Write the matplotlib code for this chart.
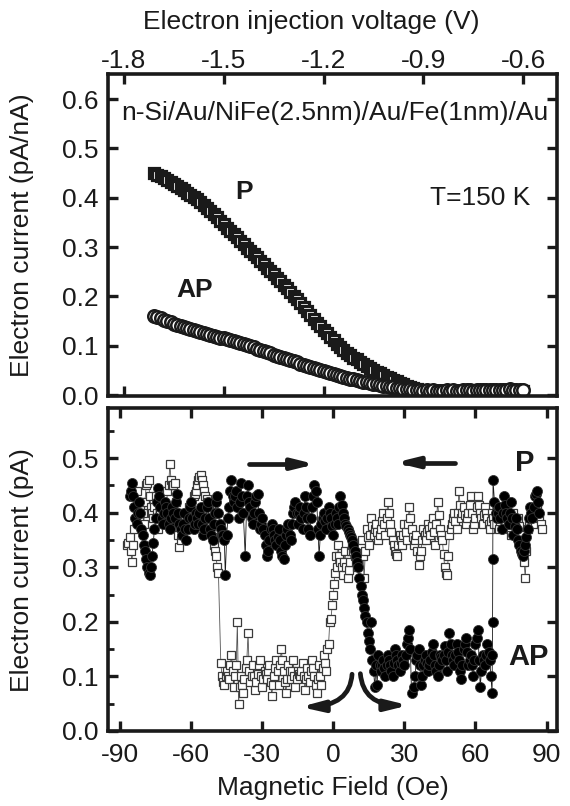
"""Spin-valve transistor: collector current vs injection voltage and field."""

import matplotlib

matplotlib.use("Agg")

import matplotlib.pyplot as plt
from matplotlib.patches import FancyArrowPatch
from matplotlib.path import Path
from matplotlib.ticker import MultipleLocator

plt.rcParams["font.family"] = ["Liberation Sans", "DejaVu Sans"]
plt.rcParams["axes.unicode_minus"] = False

# --- top panel: current vs injection voltage ---------------------------------
VOLTAGE = [
    -1.71, -1.70, -1.69, -1.68, -1.67, -1.66, -1.65, -1.64, -1.63, -1.62,
    -1.61, -1.60, -1.59, -1.58, -1.57, -1.56, -1.55, -1.54, -1.53, -1.52,
    -1.51, -1.50, -1.49, -1.48, -1.47, -1.46, -1.45, -1.44, -1.43, -1.42,
    -1.41, -1.40, -1.39, -1.38, -1.37, -1.36, -1.35, -1.34, -1.33, -1.32,
    -1.31, -1.30, -1.29, -1.28, -1.27, -1.26, -1.25, -1.24, -1.23, -1.22,
    -1.21, -1.20, -1.19, -1.18, -1.17, -1.16, -1.15, -1.14, -1.13, -1.12,
    -1.11, -1.10, -1.09, -1.08, -1.07, -1.06, -1.05, -1.04, -1.03, -1.02,
    -1.01, -1.00, -0.99, -0.98, -0.97, -0.96, -0.95, -0.94, -0.93, -0.92,
    -0.91, -0.90, -0.89, -0.88, -0.87, -0.86, -0.85, -0.84, -0.83, -0.82,
    -0.81, -0.80, -0.79, -0.78, -0.77, -0.76, -0.75, -0.74, -0.73, -0.72,
    -0.71, -0.70, -0.69, -0.68, -0.67, -0.66, -0.65, -0.64, -0.63, -0.62,
    -0.61, -0.60,
]
CURRENT_P = [
    0.450, 0.447, 0.444, 0.440, 0.436, 0.432, 0.428, 0.423, 0.419, 0.415,
    0.410, 0.406, 0.401, 0.397, 0.392, 0.386, 0.380, 0.373, 0.367, 0.360,
    0.353, 0.346, 0.339, 0.333, 0.326, 0.320, 0.313, 0.306, 0.299, 0.293,
    0.286, 0.279, 0.272, 0.265, 0.258, 0.251, 0.245, 0.238, 0.231, 0.224,
    0.216, 0.209, 0.201, 0.194, 0.186, 0.178, 0.170, 0.163, 0.155, 0.147,
    0.140, 0.132, 0.125, 0.118, 0.111, 0.104, 0.097, 0.091, 0.086, 0.081,
    0.076, 0.072, 0.067, 0.062, 0.058, 0.054, 0.051, 0.047, 0.044, 0.040,
    0.037, 0.034, 0.031, 0.028, 0.025, 0.022, 0.019, 0.016, 0.014, 0.012,
    0.010, 0.009, 0.008, 0.008, 0.007, 0.007, 0.006, 0.007, 0.006, 0.006,
    0.007, 0.006, 0.006, 0.007, 0.006, 0.005, 0.006, 0.006, 0.007, 0.006,
    0.006, 0.007, 0.006, 0.006, 0.007, 0.007, 0.006, 0.007, 0.008, 0.007,
    0.008, 0.008,
]
CURRENT_AP = [
    0.160, 0.159, 0.156, 0.153, 0.150, 0.148, 0.145, 0.142, 0.140, 0.138,
    0.135, 0.133, 0.131, 0.129, 0.127, 0.125, 0.123, 0.121, 0.120, 0.118,
    0.116, 0.115, 0.113, 0.112, 0.110, 0.108, 0.106, 0.103, 0.101, 0.099,
    0.097, 0.094, 0.092, 0.089, 0.087, 0.085, 0.082, 0.080, 0.077, 0.075,
    0.073, 0.071, 0.068, 0.066, 0.063, 0.061, 0.059, 0.057, 0.055, 0.053,
    0.051, 0.049, 0.047, 0.045, 0.043, 0.041, 0.039, 0.037, 0.035, 0.033,
    0.032, 0.030, 0.029, 0.027, 0.026, 0.024, 0.023, 0.022, 0.021, 0.019,
    0.018, 0.017, 0.016, 0.015, 0.014, 0.013, 0.012, 0.012, 0.011, 0.010,
    0.010, 0.009, 0.010, 0.009, 0.010, 0.009, 0.008, 0.009, 0.010, 0.009,
    0.010, 0.009, 0.009, 0.010, 0.011, 0.010, 0.009, 0.010, 0.010, 0.011,
    0.010, 0.011, 0.010, 0.010, 0.011, 0.010, 0.011, 0.012, 0.011, 0.010,
    0.011, 0.010,
]
VOLTAGE_TICKS = [-1.8, -1.5, -1.2, -0.9, -0.6]

# --- bottom panel: current vs magnetic field ---------------------------------
# filled circles (field swept up), whole-Oe readings
FIELD_UP = [
    -86, -85, -84, -83, -82, -81, -80, -79, -78, -77,
    -76, -75, -74, -73, -72, -71, -70, -69, -68, -67,
    -66, -65, -64, -63, -62, -61, -60, -59, -58, -57,
    -56, -55, -54, -53, -52, -51, -50, -49, -48, -47,
    -46, -45.6, -45, -44, -43, -42, -41, -40, -39, -38,
    -37.2, -36, -35, -34, -33, -32, -31, -30, -29, -28,
    -27, -26, -25, -24, -23, -22, -21, -20, -19, -18,
    -17, -16, -15, -14, -13, -12, -11, -10, -9, -8,
    -7, -6, -5, -4, -3, -2, -1, 0, 1, 2,
    3, 4, 5, 6, 7, 8, 9, 10, 10.5, 11,
    11.5, 12, 12.5, 13, 13.5, 14, 14.5, 15, 15.5, 16,
    16.5, 17, 17.5, 18, 18.5, 19, 20, 21, 22, 23,
    24, 25, 26, 27, 28, 29, 30, 31, 32, 33,
    34, 35, 36, 37, 38, 39, 40, 41, 42, 43,
    44, 45, 46, 47, 48, 49, 50, 51, 52, 53,
    54, 55, 56, 57, 58, 59, 60, 61, 62, 63,
    64, 65, 66, 67, 67.1, 67.2, 67.3, 67.4, 68, 69,
    70, 71, 72, 73, 74, 75, 76, 77, 78, 79,
    80, 81, 82, 83, 84, 85, 86, 87,
]
CURRENT_UP = [
    0.43, 0.455, 0.41, 0.38, 0.42, 0.37, 0.34, 0.315, 0.29, 0.30,
    0.345, 0.39, 0.445, 0.41, 0.38, 0.42, 0.40, 0.37, 0.41, 0.39,
    0.435, 0.38, 0.36, 0.40, 0.35, 0.39, 0.42, 0.37, 0.40, 0.38,
    0.41, 0.36, 0.39, 0.42, 0.37, 0.35, 0.40, 0.43, 0.38, 0.36,
    0.35, 0.285, 0.36, 0.41, 0.46, 0.42, 0.44, 0.39, 0.455, 0.40,
    0.32, 0.45, 0.41, 0.38, 0.42, 0.435, 0.37, 0.39, 0.36, 0.32,
    0.35, 0.38, 0.36, 0.34, 0.37, 0.33, 0.315, 0.36, 0.38, 0.35,
    0.40, 0.42, 0.38, 0.41, 0.37, 0.43, 0.39, 0.36, 0.41, 0.45,
    0.42, 0.32, 0.38, 0.40, 0.37, 0.41, 0.39, 0.36, 0.40, 0.38,
    0.43, 0.40, 0.38, 0.37, 0.36, 0.35, 0.33, 0.31, 0.30, 0.28,
    0.265, 0.25, 0.24, 0.225, 0.21, 0.20, 0.18, 0.165, 0.15, 0.20,
    0.13, 0.11, 0.08, 0.12, 0.085, 0.14, 0.11, 0.13, 0.10, 0.14,
    0.12, 0.10, 0.15, 0.13, 0.11, 0.14, 0.12, 0.16, 0.185, 0.07,
    0.08, 0.13, 0.15, 0.085, 0.12, 0.14, 0.11, 0.13, 0.16, 0.12,
    0.10, 0.14, 0.13, 0.155, 0.11, 0.18, 0.14, 0.12, 0.16, 0.13,
    0.095, 0.15, 0.17, 0.12, 0.14, 0.10, 0.16, 0.185, 0.08, 0.14,
    0.12, 0.16, 0.13, 0.07, 0.14, 0.20, 0.315, 0.46, 0.42, 0.39,
    0.41, 0.37, 0.43, 0.40, 0.38, 0.42, 0.36, 0.39, 0.35, 0.33,
    0.32, 0.34, 0.37, 0.41, 0.39, 0.43, 0.44, 0.40,
]
# filled circles, readings in between the whole-Oe ones
FIELD_UP_HALF = [
    -85.5, -84.5, -83.5, -82.5, -81.5, -80.5, -79.5, -78.5, -77.5, -76.5,
    -75.5, -74.5, -73.5, -72.5, -71.5, -70.5, -69.5, -68.5, -67.5, -66.5,
    -65.5, -64.5, -63.5, -62.5, -61.5, -60.5, -59.5, -58.5, -57.5, -56.5,
    -55.5, -54.5, -53.5, -52.5, -51.5, -50.5, -49.5, -48.5, -47.5, -46.5,
    -44.5, -43.5, -42.5, -41.5, -40.5, -39.5, -38.5, -36.5, -35.5, -34.5,
    -33.5, -32.5, -31.5, -30.5, -29.5, -28.5, -27.5, -26.5, -25.5, -24.5,
    -23.5, -22.5, -21.5, -20.5, -19.5, -18.5, -17.5, -16.5, -15.5, -14.5,
    -13.5, -12.5, -11.5, -10.5, -9.5, -8.5, -7.5, -6.5, -5.5, -4.5,
    -3.5, -2.5, -1.5, -0.5, 0.5, 1.5, 2.5, 3.5, 4.5, 5.5,
    6.5, 7.5, 8.5, 9.5, 19.5, 20.5, 21.5, 22.5, 23.5, 24.5,
    25.5, 26.5, 27.5, 28.5, 29.5, 30.5, 31.5, 32.5, 34.5, 35.5,
    36.5, 37.5, 38.5, 39.5, 40.5, 41.5, 42.5, 43.5, 44.5, 45.5,
    46.5, 47.5, 48.5, 49.5, 50.5, 51.5, 52.5, 53.5, 54.5, 55.5,
    56.5, 57.5, 58.5, 59.5, 60.5, 61.5, 62.5, 63.5, 64.5, 65.5,
    66.5, 68.5, 69.5, 70.5, 71.5, 72.5, 73.5, 74.5, 75.5, 76.5,
    77.5, 78.5, 79.5, 80.5, 81.5, 82.5, 83.5, 84.5, 85.5, 86.5,
]
CURRENT_UP_HALF = [
    0.44, 0.43, 0.39, 0.40, 0.40, 0.36, 0.33, 0.30, 0.285, 0.32,
    0.37, 0.42, 0.43, 0.39, 0.40, 0.41, 0.38, 0.39, 0.40, 0.42,
    0.40, 0.37, 0.38, 0.37, 0.37, 0.41, 0.39, 0.38, 0.39, 0.40,
    0.38, 0.37, 0.41, 0.39, 0.36, 0.38, 0.42, 0.40, 0.37, 0.36,
    0.39, 0.44, 0.43, 0.43, 0.41, 0.42, 0.43, 0.43, 0.42, 0.39,
    0.40, 0.43, 0.40, 0.38, 0.37, 0.34, 0.33, 0.37, 0.37, 0.35,
    0.355, 0.35, 0.32, 0.34, 0.37, 0.36, 0.38, 0.41, 0.40, 0.40,
    0.39, 0.40, 0.41, 0.37, 0.39, 0.43, 0.44, 0.37, 0.36, 0.39,
    0.385, 0.39, 0.40, 0.375, 0.38, 0.39, 0.41, 0.415, 0.39, 0.375,
    0.365, 0.355, 0.34, 0.32, 0.12, 0.12, 0.115, 0.12, 0.13, 0.11,
    0.125, 0.14, 0.12, 0.125, 0.13, 0.14, 0.17, 0.15, 0.10, 0.14,
    0.12, 0.10, 0.13, 0.125, 0.12, 0.145, 0.14, 0.11, 0.12, 0.135,
    0.14, 0.13, 0.145, 0.16, 0.13, 0.14, 0.145, 0.11, 0.12, 0.16,
    0.145, 0.13, 0.12, 0.13, 0.17, 0.13, 0.11, 0.13, 0.14, 0.145,
    0.10, 0.40, 0.40, 0.39, 0.40, 0.415, 0.39, 0.40, 0.39, 0.375,
    0.37, 0.34, 0.325, 0.33, 0.355, 0.39, 0.40, 0.41, 0.435, 0.42,
]
# open squares (field swept down), whole-Oe readings
FIELD_DOWN = [
    -87, -86, -85, -84, -83, -82, -81, -80, -79, -78,
    -77, -76, -75, -74, -73, -72, -71, -70, -69, -68,
    -67, -66, -65, -64, -63, -62, -61, -60, -59, -58,
    -57, -56, -55, -54, -53, -52, -51, -50, -49.5, -49,
    -48.5, -47.5, -47, -46, -45, -44, -43, -42, -41, -40.5,
    -40, -39, -38, -37, -36, -35, -34, -33, -32, -31,
    -30, -29, -28, -27, -26, -25, -24, -23, -22, -21,
    -20, -19, -18, -17, -16, -15, -14, -13, -12, -11,
    -10, -9, -8, -7, -6, -5, -4, -3, -2.5, -2,
    -1.5, -1, -0.5, 0, 0.3, 0.7, 1, 1.5, 2, 3,
    4, 5, 6, 7, 8, 9, 10, 11, 12, 13,
    14, 15, 16, 17, 18, 19, 20, 21, 22, 23,
    24, 25, 26, 27, 28, 29, 30, 31, 32, 33,
    34, 35, 36, 37, 38, 39, 40, 41, 42, 43,
    44, 45, 46, 47, 48, 49, 50, 51, 52, 53,
    54, 55, 56, 57, 58, 59, 60, 61, 62, 63,
    64, 65, 66, 67, 68, 69, 70, 71, 72, 73,
    74, 75, 76, 77, 78, 79, 80, 81, 82, 83,
    84, 85, 86, 87, 88,
]
CURRENT_DOWN = [
    0.34, 0.355, 0.31, 0.37, 0.44, 0.40, 0.42, 0.38, 0.45, 0.46,
    0.41, 0.39, 0.43, 0.37, 0.40, 0.42, 0.38, 0.44, 0.49, 0.45,
    0.455, 0.39, 0.337, 0.36, 0.40, 0.38, 0.41, 0.37, 0.43, 0.44,
    0.46, 0.47, 0.45, 0.43, 0.42, 0.40, 0.355, 0.33, 0.32, 0.30,
    0.29, 0.125, 0.10, 0.085, 0.11, 0.095, 0.14, 0.08, 0.12, 0.20,
    0.05, 0.10, 0.07, 0.115, 0.18, 0.09, 0.12, 0.075, 0.105, 0.13,
    0.08, 0.11, 0.095, 0.12, 0.065, 0.10, 0.13, 0.085, 0.15, 0.11,
    0.07, 0.12, 0.095, 0.13, 0.08, 0.11, 0.10, 0.125, 0.075, 0.115,
    0.09, 0.13, 0.10, 0.07, 0.12, 0.085, 0.14, 0.11, 0.15, 0.16,
    0.20, 0.205, 0.23, 0.25, 0.27, 0.29, 0.32, 0.30, 0.34, 0.31,
    0.285, 0.33, 0.28, 0.31, 0.34, 0.32, 0.30, 0.33, 0.35, 0.28,
    0.37, 0.34, 0.39, 0.36, 0.38, 0.35, 0.37, 0.40, 0.36, 0.42,
    0.38, 0.35, 0.33, 0.32, 0.36, 0.34, 0.38, 0.35, 0.41, 0.37,
    0.34, 0.36, 0.305, 0.33, 0.37, 0.35, 0.38, 0.36, 0.39, 0.34,
    0.42, 0.37, 0.35, 0.30, 0.285, 0.36, 0.38, 0.40, 0.37, 0.44,
    0.39, 0.41, 0.38, 0.40, 0.43, 0.37, 0.39, 0.43, 0.40, 0.38,
    0.41, 0.39, 0.37, 0.40, 0.38, 0.41, 0.37, 0.40, 0.39, 0.42,
    0.38, 0.36, 0.40, 0.37, 0.39, 0.36, 0.33, 0.28, 0.37, 0.39,
    0.40, 0.38, 0.41, 0.39, 0.37,
]
# open squares, readings in between the whole-Oe ones
FIELD_DOWN_HALF = [
    -86.5, -85.5, -84.5, -83.5, -82.5, -81.5, -80.5, -79.5, -78.5, -77.5,
    -76.5, -75.5, -74.5, -73.5, -72.5, -71.5, -70.5, -69.5, -68.5, -67.5,
    -66.5, -65.5, -64.5, -63.5, -62.5, -61.5, -60.5, -59.5, -58.5, -57.5,
    -56.5, -55.5, -54.5, -53.5, -52.5, -51.5, -50.5, -46.5, -45.5, -44.5,
    -43.5, -42.5, -41.5, -39.5, -38.5, -37.5, -36.5, -35.5, -34.5, -33.5,
    -32.5, -31.5, -30.5, -29.5, -28.5, -27.5, -26.5, -25.5, -24.5, -23.5,
    -22.5, -21.5, -20.5, -19.5, -18.5, -17.5, -16.5, -15.5, -14.5, -13.5,
    -12.5, -11.5, -10.5, -9.5, -8.5, -7.5, -6.5, -5.5, -4.5, -3.5,
    2.5, 3.5, 4.5, 5.5, 6.5, 7.5, 8.5, 9.5, 10.5, 11.5,
    12.5, 13.5, 14.5, 15.5, 16.5, 17.5, 18.5, 19.5, 20.5, 21.5,
    22.5, 23.5, 24.5, 25.5, 26.5, 27.5, 28.5, 29.5, 30.5, 31.5,
    32.5, 33.5, 34.5, 35.5, 36.5, 37.5, 38.5, 39.5, 40.5, 41.5,
    42.5, 43.5, 44.5, 45.5, 46.5, 47.5, 48.5, 49.5, 50.5, 51.5,
    52.5, 53.5, 54.5, 55.5, 56.5, 57.5, 58.5, 59.5, 60.5, 61.5,
    62.5, 63.5, 64.5, 65.5, 66.5, 67.5, 68.5, 69.5, 70.5, 71.5,
    72.5, 73.5, 74.5, 75.5, 76.5, 77.5, 78.5, 79.5, 80.5, 81.5,
    82.5, 83.5, 84.5, 85.5, 86.5, 87.5,
]
CURRENT_DOWN_HALF = [
    0.345, 0.33, 0.34, 0.41, 0.42, 0.41, 0.40, 0.42, 0.455, 0.43,
    0.40, 0.41, 0.40, 0.385, 0.41, 0.40, 0.41, 0.45, 0.46, 0.45,
    0.42, 0.36, 0.35, 0.38, 0.39, 0.395, 0.39, 0.40, 0.435, 0.45,
    0.465, 0.46, 0.44, 0.425, 0.41, 0.38, 0.34, 0.09, 0.10, 0.10,
    0.12, 0.11, 0.10, 0.08, 0.085, 0.095, 0.13, 0.11, 0.10, 0.10,
    0.09, 0.12, 0.10, 0.095, 0.105, 0.11, 0.09, 0.085, 0.115, 0.11,
    0.12, 0.13, 0.09, 0.095, 0.11, 0.11, 0.10, 0.095, 0.105, 0.11,
    0.10, 0.095, 0.10, 0.11, 0.115, 0.085, 0.095, 0.10, 0.115, 0.125,
    0.32, 0.30, 0.31, 0.30, 0.295, 0.33, 0.33, 0.31, 0.315, 0.34,
    0.32, 0.33, 0.355, 0.36, 0.375, 0.37, 0.365, 0.36, 0.385, 0.38,
    0.39, 0.40, 0.365, 0.34, 0.325, 0.34, 0.35, 0.36, 0.365, 0.38,
    0.39, 0.355, 0.35, 0.33, 0.32, 0.35, 0.36, 0.365, 0.37, 0.375,
    0.365, 0.38, 0.395, 0.36, 0.325, 0.29, 0.32, 0.37, 0.39, 0.385,
    0.40, 0.415, 0.40, 0.395, 0.39, 0.415, 0.40, 0.38, 0.41, 0.415,
    0.39, 0.395, 0.40, 0.38, 0.385, 0.39, 0.395, 0.39, 0.385, 0.395,
    0.405, 0.40, 0.37, 0.38, 0.385, 0.38, 0.375, 0.35, 0.31, 0.33,
    0.38, 0.395, 0.39, 0.395, 0.40, 0.38,
]
FIELD_TICKS = [-90, -60, -30, 0, 30, 60, 90]

INK = "#1a1a1a"
FONT_SIZE = 19


def _merge_sweep(fields, currents, extra_fields, extra_currents):
    """Join the two reading sets of one sweep in field order."""
    pairs = sorted(zip(fields + extra_fields, currents + extra_currents))
    return [p[0] for p in pairs], [p[1] for p in pairs]


def _style_axis(axis, *, top_labels):
    for spine in axis.spines.values():
        spine.set_linewidth(2.6)
        spine.set_color(INK)
    axis.tick_params(
        which="major", direction="in", length=7, width=2.4, color=INK,
        top=True, bottom=True, left=True, right=True,
        labelsize=FONT_SIZE, labelcolor=INK,
    )
    axis.tick_params(axis="y", which="major", pad=7)
    if top_labels:
        axis.tick_params(axis="x", labeltop=True, labelbottom=False, pad=1)
    else:
        axis.tick_params(axis="x", pad=9)


def _draw_arrow(axis, points, codes):
    arrow = FancyArrowPatch(
        path=Path(points, codes),
        arrowstyle="-|>,head_length=1.3,head_width=0.32",
        mutation_scale=10,
        linewidth=3.4,
        color=INK,
        transform=axis.transData,
    )
    axis.add_patch(arrow)


assert len(VOLTAGE) == len(CURRENT_P) == len(CURRENT_AP)
assert len(FIELD_UP) == len(CURRENT_UP)
assert len(FIELD_UP_HALF) == len(CURRENT_UP_HALF)
assert len(FIELD_DOWN) == len(CURRENT_DOWN)
assert len(FIELD_DOWN_HALF) == len(CURRENT_DOWN_HALF)

up_field, up_current = _merge_sweep(FIELD_UP, CURRENT_UP,
                                    FIELD_UP_HALF, CURRENT_UP_HALF)
down_field, down_current = _merge_sweep(FIELD_DOWN, CURRENT_DOWN,
                                        FIELD_DOWN_HALF, CURRENT_DOWN_HALF)

figure = plt.figure(figsize=(5.7, 8.06), dpi=100)
top_axis = figure.add_axes([0.1895, 0.5087, 0.7877, 0.3995])
bottom_axis = figure.add_axes([0.1895, 0.0931, 0.7877, 0.4007])

# top panel
top_axis.plot(
    VOLTAGE, CURRENT_P, linestyle="none", marker="s", markersize=7,
    markerfacecolor="white", markeredgecolor=INK, markeredgewidth=2.3,
)
top_axis.plot(
    VOLTAGE, CURRENT_AP, linestyle="none", marker="o", markersize=9,
    markerfacecolor="white", markeredgecolor=INK, markeredgewidth=1.8,
)
top_axis.set_xlim(-1.848, -0.498)
top_axis.set_ylim(-0.002, 0.651)
top_axis.set_xticks(VOLTAGE_TICKS)
top_axis.set_xticklabels([f"{v:.1f}" for v in VOLTAGE_TICKS])
top_axis.yaxis.set_major_locator(MultipleLocator(0.1))
_style_axis(top_axis, top_labels=True)
top_axis.text(
    0.506, 0.879, "n-Si/Au/NiFe(2.5nm)/Au/Fe(1nm)/Au",
    transform=top_axis.transAxes, ha="center", va="center",
    fontsize=FONT_SIZE, color=INK,
)
top_axis.text(
    0.94, 0.615, "T=150 K", transform=top_axis.transAxes,
    ha="right", va="center", fontsize=FONT_SIZE, color=INK,
)
top_axis.text(-1.439, 0.411, "P", ha="center", va="center",
              fontsize=FONT_SIZE, fontweight="bold", color=INK)
top_axis.text(-1.586, 0.213, "AP", ha="center", va="center",
              fontsize=FONT_SIZE, fontweight="bold", color=INK)

# bottom panel
bottom_axis.plot(
    down_field, down_current, color="#555555", linewidth=0.6, marker="s",
    markersize=6.3, markerfacecolor="white", markeredgecolor="#3a3a3a",
    markeredgewidth=0.9,
)
bottom_axis.plot(
    up_field, up_current, color=INK, linewidth=0.6, marker="o",
    markersize=7.2, markerfacecolor="black", markeredgecolor="#333333",
    markeredgewidth=0.6,
)
bottom_axis.set_xlim(-95.1, 94.4)
bottom_axis.set_ylim(0.0, 0.592)
bottom_axis.set_xticks(FIELD_TICKS)
bottom_axis.yaxis.set_major_locator(MultipleLocator(0.1))
bottom_axis.yaxis.set_minor_locator(MultipleLocator(0.05))
_style_axis(bottom_axis, top_labels=False)
bottom_axis.tick_params(axis="y", which="minor", direction="in", length=4,
                        width=2.0, color=INK, left=True, right=False)

_draw_arrow(bottom_axis, [(-35.8, 0.489), (-7.6, 0.489)],
            [Path.MOVETO, Path.LINETO])
_draw_arrow(bottom_axis, [(51.5, 0.492), (26.2, 0.492)],
            [Path.MOVETO, Path.LINETO])
_draw_arrow(bottom_axis, [(7.9, 0.104), (7.0, 0.046), (-13.9, 0.044)],
            [Path.MOVETO, Path.CURVE3, Path.CURVE3])
_draw_arrow(bottom_axis, [(11.4, 0.105), (12.6, 0.047), (31.8, 0.047)],
            [Path.MOVETO, Path.CURVE3, Path.CURVE3])

bottom_axis.text(80.6, 0.491, "P", ha="center", va="center",
                 fontsize=21, fontweight="bold", color=INK)
bottom_axis.text(82.3, 0.136, "AP", ha="center", va="center",
                 fontsize=21, fontweight="bold", color=INK)

# axis titles placed where the reference has them
figure.text(311 / 570, 1 - 22 / 806, "Electron injection voltage (V)",
            ha="center", va="center", fontsize=FONT_SIZE, color=INK)
figure.text(333 / 570, 1 - 788 / 806, "Magnetic Field (Oe)",
            ha="center", va="center", fontsize=FONT_SIZE, color=INK)
figure.text(22 / 570, 1 - 235 / 806, "Electron current (pA/nA)",
            ha="center", va="center", rotation=90, fontsize=FONT_SIZE, color=INK)
figure.text(22 / 570, 1 - 570 / 806, "Electron current (pA)",
            ha="center", va="center", rotation=90, fontsize=FONT_SIZE, color=INK)

figure.savefig("out.png", dpi=100)
plt.close(figure)
